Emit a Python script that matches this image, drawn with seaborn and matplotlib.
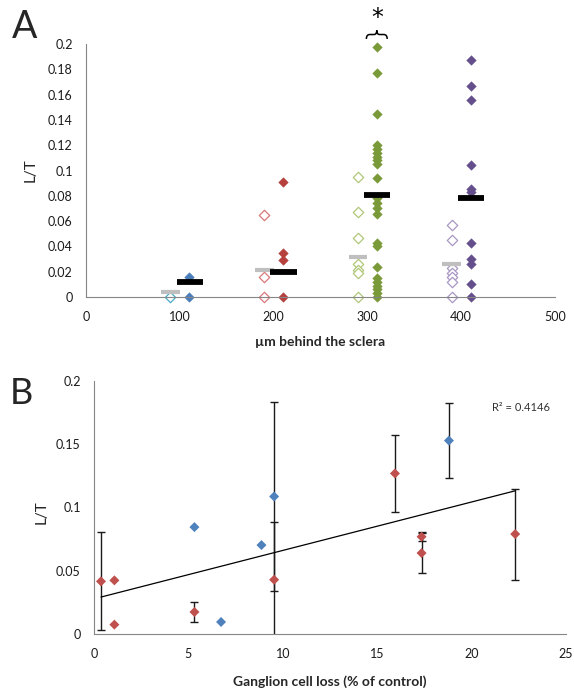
import numpy as np
import pandas as pd
import matplotlib
matplotlib.use("Agg")
import matplotlib.pyplot as plt
from matplotlib.ticker import FuncFormatter
from matplotlib.path import Path
from matplotlib.patches import PathPatch
from matplotlib.transforms import Affine2D, ScaledTranslation
import seaborn as sns

# ---------------- data: panel A ----------------
depths = [100, 200, 300, 400]
open_100 = [0.0]
filled_100 = [0.016, 0.0]
open_200 = [0.065, 0.016, 0.0]
filled_200 = [0.091, 0.035, 0.029, 0.0]
open_300 = [0.095, 0.067, 0.047, 0.026, 0.021, 0.019, 0.0]
filled_300 = [0.198, 0.177, 0.145, 0.120, 0.117, 0.114, 0.111, 0.108, 0.105,
              0.094, 0.078, 0.074, 0.070, 0.066, 0.043, 0.040, 0.024, 0.015,
              0.012, 0.009, 0.006, 0.003, 0.0]
open_400 = [0.057, 0.045, 0.023, 0.019, 0.016, 0.012, 0.0]
filled_400 = [0.187, 0.167, 0.156, 0.104, 0.085, 0.083, 0.043, 0.030, 0.026,
              0.010, 0.0]
gray_means = [0.004, 0.021, 0.032, 0.026]
black_means = [0.012, 0.020, 0.081, 0.078]
a_yticks = [0, 0.02, 0.04, 0.06, 0.08, 0.1, 0.12, 0.14, 0.16, 0.18, 0.2]
a_xticks = [0, 100, 200, 300, 400, 500]
signif_depth = 300

# ---------------- data: panel B ----------------
red_x = [0.37, 1.08, 1.08, 5.32, 9.54, 15.94, 17.35, 17.35, 22.31]
red_y = [0.0416, 0.0424, 0.0074, 0.0174, 0.0429, 0.1269, 0.0769, 0.0640, 0.079]
red_err = [0.0387, 0.0, 0.0, 0.008, 0.0455, 0.0304, 0.0035, 0.016, 0.036]
blue_x = [5.32, 6.73, 8.87, 9.54, 18.80]
blue_y = [0.0845, 0.0095, 0.0703, 0.1087, 0.1529]
blue_err = [0.0, 0.0, 0.0, 0.075, 0.0294]
trend_x = [0.37, 22.31]
trend_y = [0.0292, 0.1132]
r2_text = "R\u00b2 = 0.4146"
b_yticks = [0, 0.05, 0.1, 0.15, 0.2]
b_xticks = [0, 5, 10, 15, 20, 25]

# ---------------- style ----------------
sns.set_style("white")
plt.rcParams['font.family'] = ['Lato', 'DejaVu Sans']
AX_GRAY = "#868686"

filled_colors = ["#4A7EBB", "#B5403C", "#7A9A3A", "#654E8C"]
open_colors = ["#4BACC6", "#D9797A", "#B0C878", "#A898C4"]

fig = plt.figure(figsize=(5.74, 6.90), dpi=100)
W, H = 574, 690


def add_ax(x0, y_top, x1, y_bot):
    return fig.add_axes([x0 / W, 1 - y_bot / H, (x1 - x0) / W, (y_bot - y_top) / H])


def style_ax(ax, fs):
    for s in ["top", "right"]:
        ax.spines[s].set_visible(False)
    for s in ["left", "bottom"]:
        ax.spines[s].set_color(AX_GRAY)
        ax.spines[s].set_linewidth(0.8)
    ax.tick_params(axis="both", direction="out", length=3, width=0.8,
                   color=AX_GRAY, labelsize=fs, labelcolor="#1a1a1a")
    ax.tick_params(axis="x", pad=7)
    ax.tick_params(axis="y", pad=6.5)
    ax.yaxis.set_major_formatter(FuncFormatter(lambda v, p: f"{v:g}"))
    ax.xaxis.set_major_formatter(FuncFormatter(lambda v, p: f"{v:g}"))


# ---------------- panel A ----------------
axA = add_ax(86, 44, 555, 297)
rows = []
groups_open = [open_100, open_200, open_300, open_400]
groups_filled = [filled_100, filled_200, filled_300, filled_400]
for d, o, f in zip(depths, groups_open, groups_filled):
    for v in o:
        rows.append({"depth": d, "kind": "open", "x": d - 10, "L/T": v})
    for v in f:
        rows.append({"depth": d, "kind": "filled", "x": d + 10, "L/T": v})
dfA = pd.DataFrame(rows)

for i, d in enumerate(depths):
    sub_f = dfA[(dfA.depth == d) & (dfA.kind == "filled")]
    sns.scatterplot(data=sub_f, x="x", y="L/T", marker="D", s=24,
                    color=filled_colors[i], edgecolor=filled_colors[i],
                    linewidth=0.3, ax=axA, zorder=2, clip_on=False, legend=False)
    sub_o = dfA[(dfA.depth == d) & (dfA.kind == "open")]
    sns.scatterplot(data=sub_o, x="x", y="L/T", marker="D", s=28,
                    color="white", ax=axA, zorder=2, clip_on=False, legend=False)
    coll = axA.collections[-1]
    coll.set_facecolor("white")
    coll.set_edgecolor(open_colors[i])
    coll.set_linewidth(0.9)

dep = np.array(depths, dtype=float)
axA.hlines(gray_means, dep - 20, dep, color="#BFBFBF", lw=3.0, zorder=3,
           capstyle="butt")
axA.hlines(black_means, dep - 3.5, dep + 24.5, color="black", lw=4.2, zorder=3,
           capstyle="butt")

axA.set_xlim(0, 500)
axA.set_ylim(0, 0.2)
axA.set_xticks(a_xticks)
axA.set_yticks(a_yticks)
style_ax(axA, 9)
axA.set_xlabel("\u00b5m behind the sclera", fontsize=10, fontweight="bold")
axA.xaxis.set_label_coords(0.5, -0.155)
axA.set_ylabel("L/T", fontsize=11)
axA.yaxis.set_label_coords(-0.104, 0.5)

# significance marker (curly brace + asterisk) over the 300 um filled group
sig_x = signif_depth + 10
brace_verts = [(-7.5, -3.2), (-7.5, 0.0), (-5.0, 0.0), (-2.0, 0.0),
               (0.0, 0.0), (0.0, 3.0), (0.0, 0.0), (2.0, 0.0), (5.0, 0.0),
               (7.5, 0.0), (7.5, -3.2)]
brace_codes = [Path.MOVETO, Path.CURVE3, Path.CURVE3, Path.LINETO,
               Path.CURVE3, Path.CURVE3, Path.CURVE3, Path.CURVE3,
               Path.LINETO, Path.CURVE3, Path.CURVE3]
brace_tr = (Affine2D().scale(1 / 72.0) + fig.dpi_scale_trans
            + ScaledTranslation(sig_x, 0.2075, axA.transData))
axA.add_patch(PathPatch(Path(brace_verts, brace_codes), transform=brace_tr,
                        fill=False, lw=1.1, color="black", clip_on=False))
axA.text(sig_x, 0.2205, "*", ha="center", va="center", fontsize=17,
         color="black", clip_on=False, family=["DejaVu Sans"])

# ---------------- panel B ----------------
axB = add_ax(94, 381, 566, 634)
rx = np.array(red_x); ry = np.array(red_y); re = np.array(red_err)
mask_r = re > 0
axB.errorbar(rx[mask_r], ry[mask_r], yerr=re[mask_r], fmt="none",
             ecolor="#1a1a1a", elinewidth=1.0, capsize=3, capthick=1.0,
             zorder=2, clip_on=True)
bx = np.array(blue_x); by = np.array(blue_y); be = np.array(blue_err)
mask_b = be > 0
axB.errorbar(bx[mask_b], by[mask_b], yerr=be[mask_b],
             fmt="none", ecolor="#1a1a1a", elinewidth=1.0, capsize=3,
             capthick=1.0, zorder=2, clip_on=True)

sns.lineplot(x=trend_x, y=trend_y, color="black", lw=0.9, ax=axB, zorder=3)

dfB = pd.DataFrame({
    "loss": red_x + blue_x,
    "L/T": red_y + blue_y,
    "series": ["red"] * len(red_x) + ["blue"] * len(blue_x),
})
sns.scatterplot(data=dfB, x="loss", y="L/T", hue="series", marker="D", s=26,
                palette={"red": "#C0504D", "blue": "#4F81BD"}, linewidth=0,
                ax=axB, zorder=4, clip_on=False, legend=False)

axB.set_xlim(0, 25)
axB.set_ylim(0, 0.2)
axB.set_xticks(b_xticks)
axB.set_yticks(b_yticks)
style_ax(axB, 9)
axB.set_xlabel("Ganglion cell loss (% of control)", fontsize=10, fontweight="bold")
axB.xaxis.set_label_coords(0.5, -0.162)
axB.set_ylabel("L/T", fontsize=11)
axB.yaxis.set_label_coords(-0.097, 0.48)
axB.text(0.967, 0.895, r2_text, transform=axB.transAxes, ha="right",
         va="center", fontsize=8, color="#333333")

# panel letters
fig.text(25 / W, 1 - 27 / H, "A", fontsize=27, ha="center", va="center")
fig.text(21 / W, 1 - 394 / H, "B", fontsize=26, ha="center", va="center")

fig.savefig("out.png", dpi=100, facecolor="white")
